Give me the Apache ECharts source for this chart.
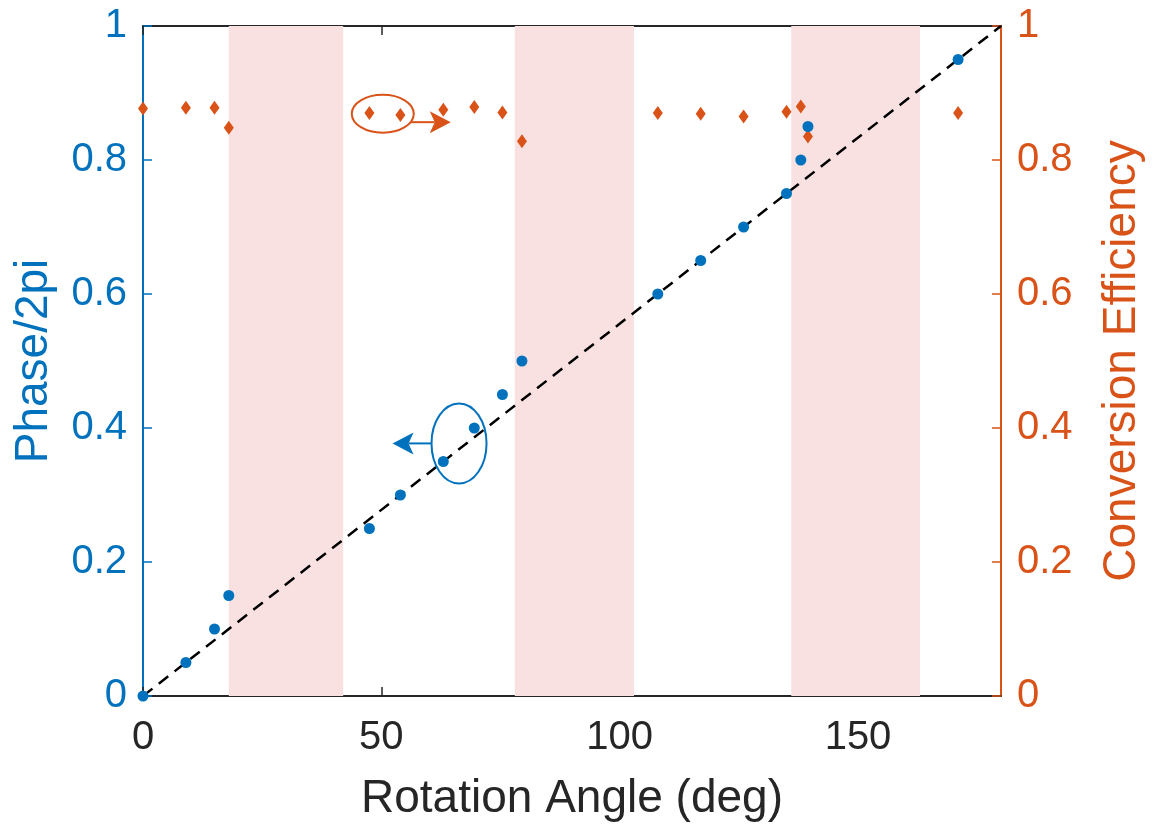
<!DOCTYPE html>
<html>
<head>
<meta charset="utf-8">
<script src="https://cdn.jsdelivr.net/npm/echarts@6/dist/echarts.min.js"></script>
<style>
html,body{margin:0;padding:0;background:#fff;}
#main{width:1153px;height:827px;}
</style>
</head>
<body>
<div id="main"></div>
<script>
// ---- data ----
const phaseAngles = [0, 9, 15, 18, 47.5, 54, 63, 69.5, 75.4, 79.5, 108, 117, 126, 135, 138, 139.5, 171];
const phaseValues = [0, 0.05, 0.10, 0.15, 0.25, 0.30, 0.35, 0.40, 0.45, 0.50, 0.60, 0.65, 0.70, 0.75, 0.80, 0.85, 0.95];
const effAngles = [0, 9, 15, 18, 47.5, 54, 63, 69.5, 75.4, 79.5, 108, 117, 126, 135, 138, 139.5, 171];
const effValues = [0.877, 0.878, 0.878, 0.848, 0.870, 0.867, 0.875, 0.879, 0.871, 0.828, 0.870, 0.869, 0.865, 0.872, 0.880, 0.835, 0.870];
const idealLineX = [0, 180];
const idealLineY = [0, 1];
const bandRanges = [[18, 42], [78, 103], [136, 163]];
const xTicks = [0, 50, 100, 150];
const yTicks = [0, 0.2, 0.4, 0.6, 0.8, 1];

const BLUE = '#0072BD', ORANGE = '#D95319', DARK = '#262626';
const FONT = 'Liberation Sans, Arial, Helvetica, sans-serif';

const chart = echarts.init(document.getElementById('main'), null, {renderer: 'canvas'});

const xTickOnly = {
  show: true, inside: true, length: 9, lineStyle: {color: DARK, width: 1.5},
  customValues: xTicks
};

const option = {
  animation: false,
  backgroundColor: '#fff',
  grid: {left: 143, right: 150, top: 26, bottom: 131, containLabel: false},
  xAxis: [
    {
      type: 'value', min: 0, max: 180, interval: 50, position: 'bottom',
      name: 'Rotation Angle (deg)', nameLocation: 'middle', nameGap: 80,
      nameTextStyle: {fontFamily: FONT, fontSize: 46, color: DARK},
      axisLine: {show: true, onZero: false, lineStyle: {color: DARK, width: 2}},
      axisTick: xTickOnly,
      axisLabel: {fontFamily: FONT, fontSize: 40, color: DARK, margin: 22,
        customValues: xTicks},
      splitLine: {show: false}
    },
    {
      type: 'value', min: 0, max: 180, interval: 50, position: 'top',
      axisLine: {show: true, onZero: false, lineStyle: {color: DARK, width: 2}},
      axisTick: xTickOnly,
      axisLabel: {show: false}, splitLine: {show: false}
    }
  ],
  yAxis: [
    {
      type: 'value', min: 0, max: 1, interval: 0.2, position: 'left',
      name: 'Phase/2pi', nameLocation: 'middle', nameGap: 86,
      nameTextStyle: {fontFamily: FONT, fontSize: 46, color: BLUE},
      axisLine: {show: true, onZero: false, lineStyle: {color: BLUE, width: 2}},
      axisTick: {show: true, inside: true, length: 9, lineStyle: {color: BLUE, width: 1.5}},
      axisLabel: {fontFamily: FONT, fontSize: 40, color: BLUE, margin: 16,
        formatter: v => String(+v.toFixed(1))},
      splitLine: {show: false}
    },
    {
      type: 'value', min: 0, max: 1, interval: 0.2, position: 'right',
      name: 'Conversion Efficiency', nameLocation: 'middle', nameGap: 98,
      nameTextStyle: {fontFamily: FONT, fontSize: 46, color: ORANGE},
      axisLine: {show: true, onZero: false, lineStyle: {color: ORANGE, width: 2}},
      axisTick: {show: true, inside: true, length: 9, lineStyle: {color: ORANGE, width: 1.5}},
      axisLabel: {fontFamily: FONT, fontSize: 40, color: ORANGE, margin: 16,
        formatter: v => String(+v.toFixed(1))},
      splitLine: {show: false}
    }
  ],
  series: [
    {
      name: 'bands', type: 'line', xAxisIndex: 0, yAxisIndex: 0, data: [], z: 1,
      markArea: {
        silent: true,
        itemStyle: {color: '#FAE1E1'},
        data: bandRanges.map(r => [{xAxis: r[0]}, {xAxis: r[1]}])
      }
    },
    {
      name: 'ideal', type: 'line', xAxisIndex: 0, yAxisIndex: 0, z: 2,
      data: idealLineX.map((x, i) => [x, idealLineY[i]]),
      symbol: 'none',
      lineStyle: {color: '#000', width: 2.5, type: [12, 8]}
    },
    {
      name: 'Phase', type: 'scatter', xAxisIndex: 0, yAxisIndex: 0, z: 4,
      data: phaseAngles.map((x, i) => [x, phaseValues[i]]),
      symbol: 'circle', symbolSize: 11,
      itemStyle: {color: BLUE, opacity: 1}
    },
    {
      name: 'Efficiency', type: 'scatter', xAxisIndex: 0, yAxisIndex: 1, z: 3,
      data: effAngles.map((x, i) => [x, effValues[i]]),
      symbol: 'diamond', symbolSize: [10, 14],
      itemStyle: {color: ORANGE, opacity: 1}
    }
  ]
};
chart.setOption(option);

// annotations (ellipses + arrows), anchored in data coordinates
const annotations = [
  {center: [50.3, 0.869], rx: 31, ry: 19, color: ORANGE, axis: 1,
   arrowTipDx: 37, arrowDy: 8.4, dir: 1},
  {center: [66.3, 0.377], rx: 27.5, ry: 40, color: BLUE, axis: 0,
   arrowTipDx: 39, arrowDy: 0, dir: -1}
];
const g = [];
annotations.forEach(a => {
  const p = chart.convertToPixel({xAxisIndex: 0, yAxisIndex: a.axis}, a.center);
  const cx = p[0], cy = p[1];
  g.push({type: 'ellipse', shape: {cx, cy, rx: a.rx, ry: a.ry},
    style: {fill: 'none', stroke: a.color, lineWidth: 2}, z: 10});
  const sx = cx + a.dir * Math.sqrt(Math.max(0, 1 - (a.arrowDy * a.arrowDy) / (a.ry * a.ry))) * a.rx;
  const sy = cy + a.arrowDy;
  const tx = cx + a.dir * (a.rx + a.arrowTipDx);
  const bx = tx - a.dir * 21, nx = tx - a.dir * 16;
  g.push({type: 'line', shape: {x1: sx, y1: sy, x2: nx, y2: sy},
    style: {stroke: a.color, lineWidth: 2}, z: 10});
  g.push({type: 'polygon', shape: {points: [[tx, sy], [bx, sy - 11], [nx, sy], [bx, sy + 11]]},
    style: {fill: a.color}, z: 10});
});
chart.setOption({graphic: g});
</script>
</body>
</html>
